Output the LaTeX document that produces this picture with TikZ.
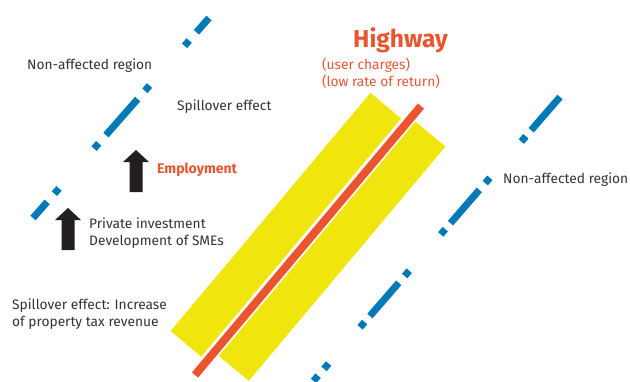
\documentclass[tikz,border=0pt]{standalone}
\usepackage{fontspec}
\setmainfont{Fira Sans}
\definecolor{txtgray}{HTML}{333333}
\definecolor{hwred}{HTML}{EA5530}
\definecolor{bandyellow}{HTML}{F0E60E}
\definecolor{regionblue}{HTML}{0079B8}
\definecolor{arrowblack}{HTML}{231F20}
\begin{document}
\begin{tikzpicture}[x=1pt,y=-1pt,
  lbl/.style={inner sep=0pt, anchor=base west, text=txtgray, font=\fontsize{13.75}{17}\selectfont, align=left},
  redlbl/.style={lbl, text=hwred},
  band/.style={fill=bandyellow},
  road/.style={draw=hwred, line width=8pt},
  borderA/.style={draw=regionblue, line width=7pt, dash pattern=on 48pt off 11pt on 7pt off 53pt on 7pt off 11pt, dash phase=29pt},
  borderB/.style={draw=regionblue, line width=7pt, dash pattern=on 44pt off 8pt on 7pt off 48pt on 7pt off 9pt},
  blockarr/.pic={\fill[arrowblack] (0,0) -- (13,12) -- (6.5,12) -- (6.5,42) -- (-6.5,42) -- (-6.5,12) -- (-13,12) -- cycle;}
]
\useasboundingbox (0,0) rectangle (630,381);
\clip (0,0) rectangle (630,381);

% yellow bands
\fill[band] (170.6,331.0) -- (201.2,356.7) -- (401.1,118.5) -- (370.5,92.8) -- cycle;
\fill[band] (218.9,355.9) -- (248.8,380.9) -- (445.5,146.5) -- (415.6,121.5) -- cycle;

% highway
\coordinate (roadS) at (195,375);
\coordinate (roadN) at (421,106);
\draw[road] (roadS) -- (roadN);

% region borders
\coordinate (aN) at (209,18);
\coordinate (aS) at (33,218);
\draw[borderA] (aN) -- (aS);
\coordinate (bN) at (560,97);
\coordinate (bS) at (313.5,381);
\draw[borderB] (bN) -- (bS);

% arrows
\pic (arrEmp) at (136,150) {blockarr};
\pic (arrInv) at (68,208) {blockarr};

% labels (multi-line nodes: base = last line)
\node[lbl] (nonA) at (27,69) {Non-affected region};
\node[lbl] (spillA) at (177,110) {Spillover effect};
\node[redlbl, font=\fontsize{14}{17}\selectfont\bfseries] (emp) at (157,173) {Employment};
\node[lbl] (inv) at (89,245) {Private investment\\Development of SMEs};
\node[lbl] (spillB) at (12,326) {Spillover effect: Increase\\of property tax revenue};
\node[redlbl, font=\fontsize{24.5}{28}\selectfont\bfseries] (hw) at (353,47) {Highway};
\node[redlbl] (hwsub) at (322,86) {(user charges)\\(low rate of return)};
\node[lbl] (nonB) at (503,183) {Non-affected region};
\end{tikzpicture}
\end{document}
